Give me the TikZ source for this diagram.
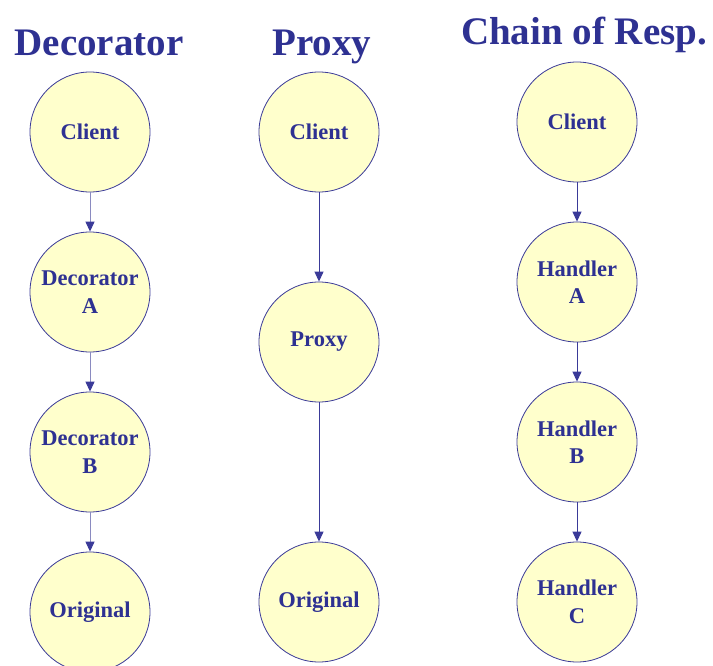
\documentclass[tikz,border=0pt]{standalone}
\usepackage{fontspec}
\setmainfont{Liberation Serif}
\usetikzlibrary{arrows.meta, positioning}
\definecolor{titleblue}{HTML}{2E3192}
\definecolor{circlefill}{HTML}{FFFFCC}
\definecolor{edgeblue}{HTML}{3A3A98}
\definecolor{linegray}{HTML}{8A8AC0}

\tikzset{
  patnode/.style={circle, draw=edgeblue, fill=circlefill, line width=0.8pt,
    minimum size=120pt, inner sep=0pt, align=center, text=titleblue,
    font=\fontsize{22.5}{27.5}\selectfont\bfseries},
  pattitle/.style={anchor=base, text=titleblue, font=\fontsize{39}{44}\selectfont\bfseries},
  callarrow/.style={-{Triangle[length=10pt, width=9pt, color=edgeblue]}, line width=1pt, draw=edgeblue}
}

\begin{document}
\begin{tikzpicture}[x=1pt, y=-1pt]
  \useasboundingbox (0,0) rectangle (713,666);

  % Column titles
  \node[pattitle] (dectitle) at (99,55.5) {Decorator};
  \node[pattitle] (proxytitle) at (322,55.5) {Proxy};
  \node[pattitle] (chaintitle) at (584,45) {Chain of Resp.};

  % Decorator column
  \node[patnode] (decclient) at (90,132) {Client};
  \node[patnode] (deca) at (90,292) {Decorator\\A};
  \node[patnode] (decb) at (90,452) {Decorator\\B};
  \node[patnode] (decorig) at (90,612) {Original};

  % Proxy column
  \node[patnode] (proxyclient) at (319,132) {Client};
  \node[patnode] (proxy) at (319,342) {Proxy};
  \node[patnode] (proxyorig) at (319,602) {Original};

  % Chain of responsibility column
  \node[patnode] (chainclient) at (577,122) {Client};
  \node[patnode] (handlera) at (577,282) {Handler\\A};
  \node[patnode] (handlerb) at (577,442) {Handler\\B};
  \node[patnode] (handlerc) at (577,602) {Handler\\C};

  % Calls
  \draw[callarrow, draw=linegray] (decclient) -- (deca);
  \draw[callarrow, draw=linegray] (deca) -- (decb);
  \draw[callarrow, draw=linegray] (decb) -- (decorig);
  \draw[callarrow] (proxyclient) -- (proxy);
  \draw[callarrow] (proxy) -- (proxyorig);
  \draw[callarrow] (chainclient) -- (handlera);
  \draw[callarrow] (handlera) -- (handlerb);
  \draw[callarrow] (handlerb) -- (handlerc);
\end{tikzpicture}
\end{document}
